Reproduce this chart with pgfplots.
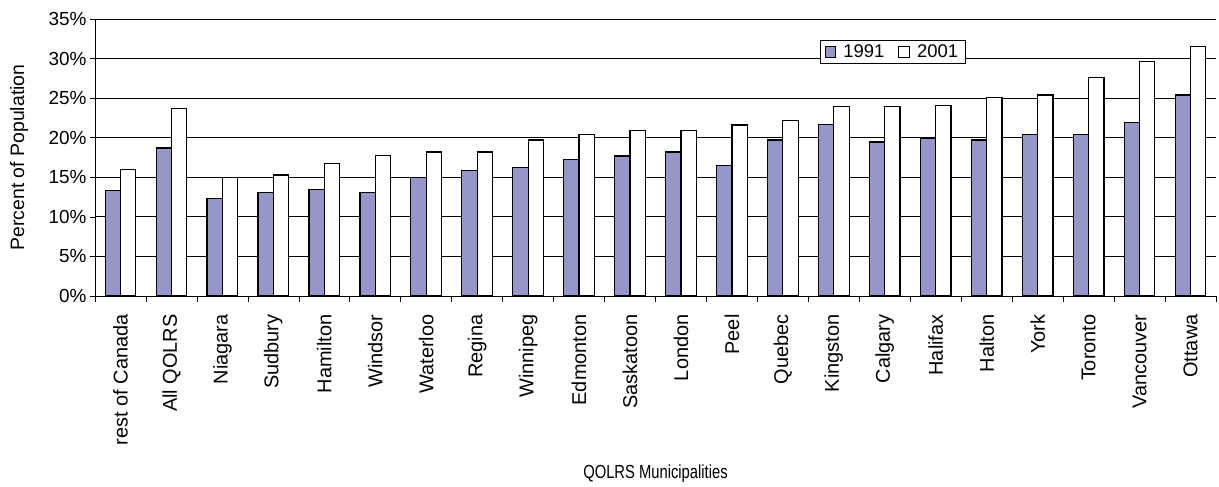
\documentclass[border=0pt]{standalone}
\usepackage{fontspec}
\setmainfont{Liberation Sans}
\newfontfamily\narrowsans[FakeStretch=0.78]{Liberation Sans}
\usepackage{pgfplots}
\pgfplotsset{compat=1.18}
\definecolor{bar91}{RGB}{150,150,200}

\begin{document}
\begin{tikzpicture}
\begin{axis}[
  scale only axis, width=1121bp, height=277bp,
  ybar=0pt, bar width=15.3bp,
  xmin=-0.5, xmax=21.5, ymin=0, ymax=35,
  axis x line*=bottom, axis y line*=left,
  axis line style={-, black, line width=0.8bp},
  tick align=outside,
  xtick={0,...,21},
  xticklabels={rest of Canada, All QOLRS, Niagara, Sudbury, Hamilton, Windsor,
    Waterloo, Regina, Winnipeg, Edmonton, Saskatoon, London, Peel, Quebec,
    Kingston, Calgary, Halifax, Halton, York, Toronto, Vancouver, Ottawa},
  major x tick style={draw=none},
  minor xtick={-0.5,0.5,...,21.5},
  minor tick length=6bp,
  minor x tick style={black, line width=0.6bp},
  xticklabel style={rotate=90, anchor=east, font=\fontsize{20}{22}\selectfont},
  xticklabel shift=10bp,
  ytick={0,5,...,35},
  yticklabels={0\%,5\%,10\%,15\%,20\%,25\%,30\%,35\%},
  yticklabel style={font=\fontsize{19}{22}\selectfont},
  major tick length=5bp,
  major y tick style={black, line width=0.6bp},
  ymajorgrids,
  major grid style={black, line width=0.8bp},
  xlabel={QOLRS Municipalities},
  xlabel style={at={(axis description cs:0.5,-0.6426)}, anchor=center, font=\narrowsans\fontsize{19}{22}\selectfont},
  ylabel={Percent of Population},
  ylabel style={at={(axis description cs:-0.0678,0.5)}, anchor=center, font=\fontsize{19.5}{22}\selectfont},
  legend style={at={(0.7114,0.881)}, anchor=center, legend columns=2, draw=black, fill=white,
    line width=0.6bp, inner ysep=2.5bp, inner xsep=5bp,
    font=\fontsize{18.5}{20}\selectfont,
    /tikz/every odd column/.append style={column sep=5bp},
    /tikz/every even column/.append style={column sep=12bp}},
  legend image code/.code={\draw[#1, line width=1bp] (0bp,-5.3bp) rectangle (10.6bp,5.3bp);},
]
\addplot[fill=bar91, draw=black, line width=1.2bp] table {
x y
0 13.3
1 18.7
2 12.3
3 13.1
4 13.5
5 13.1
6 15.0
7 15.9
8 16.2
9 17.2
10 17.7
11 18.2
12 16.5
13 19.7
14 21.7
15 19.45
16 19.9
17 19.7
18 20.4
19 20.4
20 21.9
21 25.4
};
\addlegendentry{1991}
\addplot[fill=white, draw=black, line width=1.2bp] table {
x y
0 16.0
1 23.7
2 15.0
3 15.3
4 16.75
5 17.8
6 18.2
7 18.2
8 19.7
9 20.4
10 20.9
11 20.9
12 21.6
13 22.15
14 23.9
15 23.9
16 24.1
17 25.1
18 25.4
19 27.6
20 29.6
21 31.5
};
\addlegendentry{2001}
\end{axis}
\pgfresetboundingbox
\path (-95bp,-191bp) rectangle (1124bp,296bp);
\end{tikzpicture}
\end{document}
